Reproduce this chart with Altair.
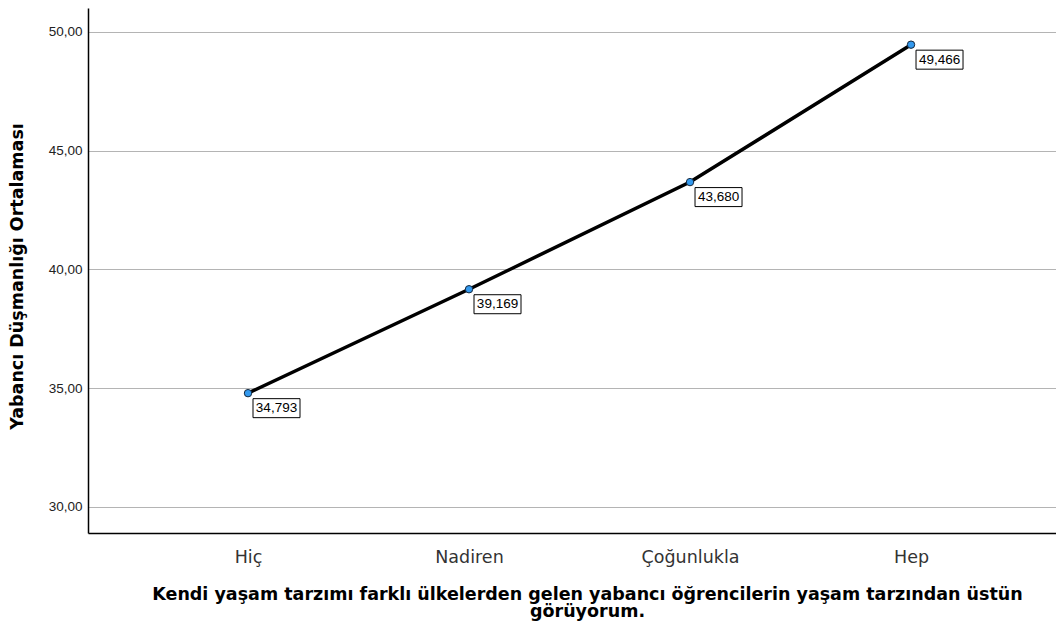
import json
import altair as alt
import pandas as pd

# ---- data ----
categories = ["Hiç", "Nadiren", "Çoğunlukla", "Hep"]
means = [34.793, 39.169, 43.680, 49.466]
y_ticks = [30, 35, 40, 45, 50]

x_title = ["Kendi yaşam tarzımı farklı ülkelerden gelen yabancı öğrencilerin yaşam tarzından üstün",
           "görüyorum."]
y_title = "Yabancı Düşmanlığı Ortalaması"

df = pd.DataFrame({"idx": list(range(len(categories))), "cat": categories, "mean": means})

FONT = "Liberation Sans"
WIDE = "DejaVu Sans"

x_scale = alt.Scale(domain=[-0.724, 3.656], nice=False, zero=False)
y_scale = alt.Scale(domain=[28.905, 51.01], nice=False, zero=False)

label_expr_x = json.dumps(categories) + "[round(datum.value)]"

x_enc = alt.X(
    "idx:Q", scale=x_scale,
    axis=alt.Axis(
        values=list(range(len(categories))), labelExpr=label_expr_x,
        grid=False, ticks=False, domainColor="#000000", domainWidth=1.5,
        labelFont=WIDE, labelFontSize=17.5, labelColor="#333333", labelPadding=15,
        title=x_title, titleFont=WIDE, titleFontSize=17.5, titleFontWeight="bold",
        titleColor="#000000", titleLineHeight=17.5, titleX=499, titleY=66,
        titleBaseline="alphabetic", titleAlign="center",
    ),
)
y_enc = alt.Y(
    "mean:Q", scale=y_scale,
    axis=alt.Axis(
        values=y_ticks, labelExpr="replace(format(datum.value, '.2f'), '.', ',')",
        grid=True, gridColor="#b4b4b4", gridWidth=1, ticks=False,
        domainColor="#000000", domainWidth=1.5,
        labelFont=FONT, labelFontSize=13.5, labelColor="#222222", labelPadding=6,
        title=y_title, titleFont=WIDE, titleFontSize=17.5, titleFontWeight="bold",
        titleColor="#000000", titleAngle=-90, titleX=-70.5, titleY=268,
        titleAlign="center", titleBaseline="middle",
    ),
)

base = alt.Chart(df).encode(x=x_enc, y=y_enc)

line = base.mark_line(color="#000000", strokeWidth=3.5)
points = base.mark_point(filled=True, fill="#3399ee", stroke="#14273d",
                         strokeWidth=1, size=55, opacity=1)
boxes = base.mark_rect(width=47, height=19, xOffset=28.5, yOffset=15,
                       fill="#ffffff", stroke="#000000", strokeWidth=1)
labels = base.transform_calculate(
    lab="replace(format(datum.mean, '.3f'), '.', ',')"
).mark_text(xOffset=28.5, yOffset=15, font=FONT, fontSize=13.5,
            align="center", baseline="middle", color="#000000").encode(text="lab:N")

chart = alt.layer(line, points, boxes, labels).properties(
    width=968, height=525,
    autosize=alt.AutoSizeParams(type="none"),
    padding={"left": 80, "top": 0, "right": 0, "bottom": 88},
).configure_view(stroke=None)

chart.save("out.html", embed_options={"renderer": "svg", "actions": False})
